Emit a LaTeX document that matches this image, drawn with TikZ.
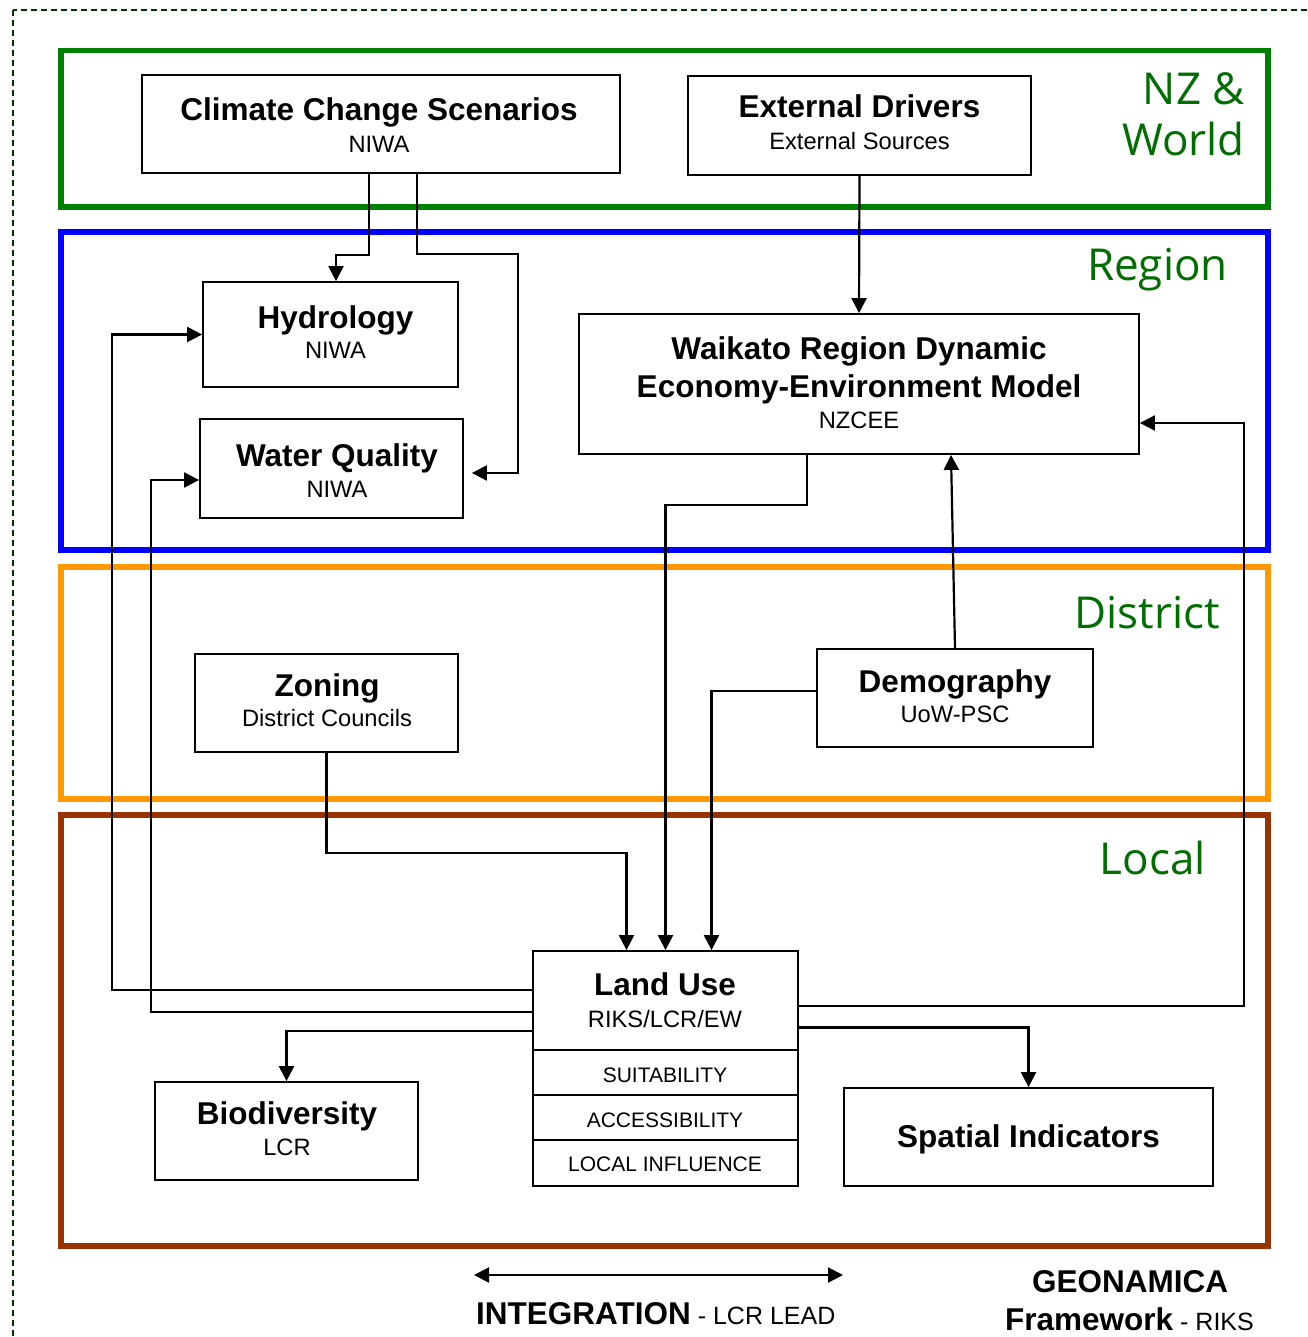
\documentclass[tikz,border=0pt]{standalone}
\usepackage{fontspec}
\setmainfont{Liberation Sans}
\newfontfamily\lblfont{Open Sans}
\usetikzlibrary{arrows.meta}
\definecolor{frgreen}{RGB}{0,128,0}
\definecolor{frblue}{RGB}{0,0,255}
\definecolor{frorange}{RGB}{255,153,0}
\definecolor{frbrown}{RGB}{153,51,0}
\definecolor{lblgreen}{RGB}{0,110,0}
\definecolor{dashgreen}{RGB}{0,51,0}
\tikzset{
  box/.style={draw=black, line width=1.8pt, fill=white, inner sep=0pt},
  ttl/.style={anchor=base, inner sep=0pt, font=\fontsize{31.5}{36}\selectfont\bfseries},
  sub/.style={anchor=base, inner sep=0pt, font=\fontsize{23.7}{28}\selectfont},
  rowtxt/.style={anchor=base, inner sep=0pt, font=\fontsize{21}{25}\selectfont},
  lbl/.style={anchor=base east, inner sep=0pt, text=lblgreen, font=\lblfont\fontsize{44}{50}\selectfont},
  conn/.style={draw=black, line width=2.2pt, -{Triangle[width=15pt,length=15pt]}},
  frame/.style={line width=5.5pt},
}
\begin{document}
\begin{tikzpicture}[x=1pt,y=-1pt]
\useasboundingbox (0,0) rectangle (1307,1337);
\fill[white] (0,0) rectangle (1307,1337);
% outer dashed border
\draw[dashgreen, line width=1.5pt, dash pattern=on 6pt off 4pt] (13,10) rectangle (1340,1370);
% level frames
\draw[frame, frgreen] (61,50.5) rectangle (1268,207);
\draw[frame, frblue] (61,232) rectangle (1268,550);
\draw[frame, frorange] (61,567) rectangle (1268,799);
\draw[frame, frbrown] (61,815) rectangle (1268,1246);
% level labels
\node[lbl] (lnz) at (1245,105) {NZ \&};
\node[lbl] (lworld) at (1245,156) {World};
\node[lbl] (lregion) at (1228,280) {Region};
\node[lbl] (ldistrict) at (1220,628) {District};
\node[lbl] (llocal) at (1206,874) {Local};
% boxes
\node[box, minimum width=478pt, minimum height=98pt] (ccs) at (381,124) {};
\node[box, minimum width=343pt, minimum height=99pt] (ext) at (859.5,125.5) {};
\node[box, minimum width=255pt, minimum height=105pt] (hyd) at (330.5,334.5) {};
\node[box, minimum width=263pt, minimum height=99pt] (wq) at (331.5,468.5) {};
\node[box, minimum width=560pt, minimum height=140pt] (wk) at (859,384) {};
\node[box, minimum width=263pt, minimum height=98pt] (zon) at (326.5,703) {};
\node[box, minimum width=276pt, minimum height=98pt] (dem) at (955,698) {};
\node[box, minimum width=265pt, minimum height=99pt] (lu) at (665.5,1000.5) {};
\node[box, minimum width=265pt, minimum height=45pt] (suit) at (665.5,1072.5) {};
\node[box, minimum width=265pt, minimum height=45pt] (acc) at (665.5,1117.5) {};
\node[box, minimum width=265pt, minimum height=46pt] (loc) at (665.5,1163) {};
\node[box, minimum width=263pt, minimum height=98pt] (bio) at (286.5,1131) {};
\node[box, minimum width=369pt, minimum height=98pt] (spi) at (1028.5,1137) {};
% box texts
\node[ttl] (tccs) at (379,121) {Climate Change Scenarios};
\node[sub] (sccs) at (379,152.5) {NIWA};
\node[ttl] (text) at (859.5,118) {External Drivers};
\node[sub] (sext) at (859.5,149.5) {External Sources};
\node[ttl] (thyd) at (335.5,328) {Hydrology};
\node[sub] (shyd) at (335.5,358.5) {NIWA};
\node[ttl] (twq) at (337,466) {Water Quality};
\node[sub] (swq) at (337,497.5) {NIWA};
\node[ttl] (twk1) at (859,359) {Waikato Region Dynamic};
\node[ttl] (twk2) at (859,397) {Economy-Environment Model};
\node[sub] (swk) at (859,428.5) {NZCEE};
\node[ttl] (tzon) at (327,696) {Zoning};
\node[sub] (szon) at (327,726.5) {District Councils};
\node[ttl] (tdem) at (955,692) {Demography};
\node[sub] (sdem) at (955,722.5) {UoW-PSC};
\node[ttl] (tlu) at (665,995) {Land Use};
\node[sub] (slu) at (665,1027) {RIKS/LCR/EW};
\node[rowtxt] (tsuit) at (665,1082) {SUITABILITY};
\node[rowtxt] (tacc) at (665,1127) {ACCESSIBILITY};
\node[rowtxt] (tloc) at (665,1171) {LOCAL INFLUENCE};
\node[ttl] (tbio) at (287,1124) {Biodiversity};
\node[sub] (sbio) at (287,1155.5) {LCR};
\node[ttl] (tspi) at (1028.5,1147) {Spatial Indicators};
% connectors
\draw[conn] ([xshift=-12pt]ccs.south) -- ++(0,81) -| ([xshift=5.5pt]hyd.north);
\draw[conn] ([xshift=36pt]ccs.south) |- (518,254) |- ([xshift=8pt,yshift=-4.5pt]wq.east);
\draw[conn] (ext.south) -- (wk.north);
\draw[conn] ([xshift=-52pt]wk.south) -- ++(0,50) -| (lu.north);
\draw[conn] (dem.north) -- ([xshift=92pt]wk.south);
\draw[conn] ([yshift=7pt]dem.west) -| ([xshift=46pt]lu.north);
\draw[conn] (zon.south) -- ++(0,100) -| ([xshift=-39pt]lu.north);
\draw[conn] ([yshift=10.5pt]lu.west) -| ([xshift=-90pt]hyd.west) -- (hyd.west);
\draw[conn] ([yshift=-11.5pt]lu.west) -| ([xshift=-48pt,yshift=-11.5pt]wq.west) -- ([yshift=-11.5pt]wq.west);
\draw[conn] ([yshift=-30.5pt]lu.west) -| (bio.north);
\draw[conn] ([yshift=-5.5pt]lu.east) -| ([xshift=104pt,yshift=-39pt]wk.east) -- ([yshift=-39pt]wk.east);
\draw[conn] ([yshift=-27pt]lu.east) -| (spi.north);
% integration arrow
\coordinate (ia) at (474,1275);
\coordinate (ib) at (843,1275);
\draw[conn, {Triangle[width=15pt,length=15pt]}-{Triangle[width=15pt,length=15pt]}] (ia) -- (ib);
\node[anchor=base west, inner sep=0pt] (tint) at (476,1324) {\fontsize{31.5}{36}\selectfont\bfseries INTEGRATION\fontsize{25}{30}\selectfont\mdseries\ - LCR LEAD};
\node[anchor=base, inner sep=0pt, font=\fontsize{31.5}{36}\selectfont\bfseries] (tgeo) at (1130,1292) {GEONAMICA};
\node[anchor=base, inner sep=0pt] (tfw) at (1129.5,1330) {\fontsize{31.5}{36}\selectfont\bfseries Framework\fontsize{25}{30}\selectfont\mdseries\ - RIKS};
\end{tikzpicture}
\end{document}
